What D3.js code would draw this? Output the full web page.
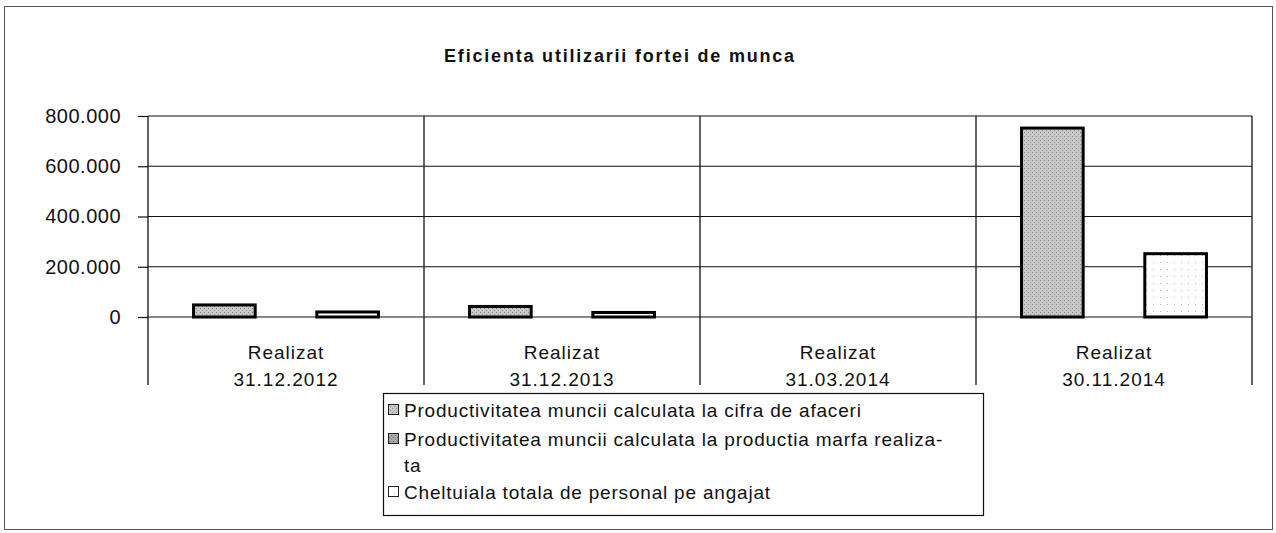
<!DOCTYPE html>
<html>
<head>
<meta charset="utf-8">
<script src="https://cdn.jsdelivr.net/npm/d3@7"></script>
<style>
  body { margin: 0; background: #fff; }
  text { font-family: "Liberation Sans", Arial, sans-serif; fill: #111; }
</style>
</head>
<body>
<div id="chart"></div>
<script>
// categories + values
const catTop = ["Realizat", "Realizat", "Realizat", "Realizat"];
const catDates = ["31.12.2012", "31.12.2013", "31.03.2014", "30.11.2014"];
const seriesNames = [
  "Productivitatea muncii calculata la cifra de afaceri",
  "Productivitatea muncii calculata la productia marfa realizata",
  "Cheltuiala totala de personal pe angajat"
];
const valCifra = [48000, 42000, 0, 752000];
const valMarfa = [0, 0, 0, 0];
const valCheltuiala = [20000, 18000, 0, 252000];
const yTicks = [0, 200000, 400000, 600000, 800000];
const chartTitle = "Eficienta utilizarii fortei de munca";

const W = 1276, H = 533;
const plot = {left: 148, right: 1252, top: 116, bottom: 317};

const svg = d3.select("#chart").append("svg")
    .attr("width", W)
    .attr("height", H);

// patterns for the bar fills
const defs = svg.append("defs");
const p1 = defs.append("pattern").attr("id", "pat0")
    .attr("width", 4).attr("height", 4).attr("patternUnits", "userSpaceOnUse");
p1.append("rect").attr("width", 4).attr("height", 4).attr("fill", "#c8c8c8");
p1.append("rect").attr("x", 0).attr("y", 0).attr("width", 1).attr("height", 1).attr("fill", "#888");
p1.append("rect").attr("x", 2).attr("y", 2).attr("width", 1).attr("height", 1).attr("fill", "#969696");

const p2 = defs.append("pattern").attr("id", "pat1")
    .attr("width", 4).attr("height", 4).attr("patternUnits", "userSpaceOnUse");
p2.append("rect").attr("width", 4).attr("height", 4).attr("fill", "#a9a9a9");
p2.append("rect").attr("x", 1).attr("y", 1).attr("width", 1).attr("height", 1).attr("fill", "#666");
p2.append("rect").attr("x", 3).attr("y", 3).attr("width", 1).attr("height", 1).attr("fill", "#777");

const p3 = defs.append("pattern").attr("id", "pat2")
    .attr("width", 7).attr("height", 7).attr("patternUnits", "userSpaceOnUse");
p3.append("rect").attr("width", 7).attr("height", 7).attr("fill", "#fff");
p3.append("rect").attr("x", 2).attr("y", 3).attr("width", 1).attr("height", 1).attr("fill", "#b5b5b5");

const fills = ["url(#pat0)", "url(#pat1)", "url(#pat2)"];

// outer frame
svg.append("rect")
    .attr("x", 4.5).attr("y", 6.5)
    .attr("width", 1268).attr("height", 523)
    .attr("fill", "none")
    .attr("stroke", "#555")
    .attr("stroke-width", 1);

svg.append("text")
    .attr("x", 620).attr("y", 62)
    .attr("text-anchor", "middle")
    .attr("font-size", 18)
    .attr("font-weight", "bold")
    .attr("letter-spacing", 1.8)
    .text(chartTitle);

const x = d3.scaleBand()
    .domain(d3.range(catDates.length))
    .range([plot.left, plot.right])
    .padding(0);

const xs = d3.scaleBand()
    .domain(d3.range(seriesNames.length))
    .range([x.bandwidth() * 0.165, x.bandwidth() * 0.835])
    .padding(0);

const y = d3.scaleLinear()
    .domain([0, 800000])
    .range([plot.bottom, plot.top]);

const ro = d3.formatLocale({decimal: ",", thousands: ".", grouping: [3], currency: ["", ""]});
const fmt = ro.format(",");

// gridlines
svg.append("g")
  .selectAll("line")
  .data(yTicks)
  .enter().append("line")
    .attr("x1", plot.left).attr("x2", plot.right)
    .attr("y1", d => y(d)).attr("y2", d => y(d))
    .attr("stroke", "#111")
    .attr("stroke-width", 1.2);

// y axis
const yAxis = svg.append("g")
    .attr("transform", "translate(" + plot.left + ",0)")
    .call(d3.axisLeft(y).tickValues(yTicks).tickFormat(fmt).tickSize(10).tickPadding(17));
yAxis.select(".domain").remove();
yAxis.selectAll(".tick line").attr("stroke", "#111").attr("stroke-width", 1.2);
yAxis.selectAll(".tick text")
    .attr("font-family", "Liberation Sans, Arial, sans-serif")
    .attr("font-size", 20)
    .attr("letter-spacing", 0.5)
    .attr("fill", "#111");

// category dividers (run down past the labels)
const edges = d3.range(catDates.length + 1).map(i => i < catDates.length ? x(i) : x(i - 1) + x.bandwidth());
svg.append("g")
  .selectAll("line")
  .data(edges)
  .enter().append("line")
    .attr("x1", d => d).attr("x2", d => d)
    .attr("y1", plot.top).attr("y2", 385)
    .attr("stroke", "#111")
    .attr("stroke-width", 1.3);

// bars
const table = catDates.map((d, i) => ({i: i, vals: [valCifra[i], valMarfa[i], valCheltuiala[i]]}));
const groups = svg.append("g")
  .selectAll("g")
  .data(table)
  .enter().append("g")
    .attr("transform", d => "translate(" + x(d.i) + ",0)");

groups.selectAll("rect")
  .data(d => d.vals.map((v, k) => ({k: k, v: v})).filter(e => e.v > 0))
  .enter().append("rect")
    .attr("x", d => xs(d.k))
    .attr("y", d => y(d.v))
    .attr("width", xs.bandwidth())
    .attr("height", d => y(0) - y(d.v))
    .attr("fill", d => fills[d.k])
    .attr("stroke", "#000")
    .attr("stroke-width", 3);

// category labels
const lab = svg.append("g")
    .attr("font-size", 19)
    .attr("letter-spacing", 1)
    .attr("text-anchor", "middle");
lab.selectAll("text.l1")
  .data(catTop)
  .enter().append("text")
    .attr("class", "l1")
    .attr("x", (d, i) => x(i) + x.bandwidth() / 2)
    .attr("y", 359)
    .text(d => d);
lab.selectAll("text.l2")
  .data(catDates)
  .enter().append("text")
    .attr("class", "l2")
    .attr("x", (d, i) => x(i) + x.bandwidth() / 2)
    .attr("y", 386)
    .text(d => d);

// legend
const legend = svg.append("g");
legend.append("rect")
    .attr("x", 383.5).attr("y", 393.5)
    .attr("width", 600).attr("height", 122)
    .attr("fill", "#fff")
    .attr("stroke", "#111")
    .attr("stroke-width", 1.2);

const legendRows = [
  {k: 0, lines: ["Productivitatea muncii calculata la cifra de afaceri"], y: 417},
  {k: 1, lines: ["Productivitatea muncii calculata la productia marfa realiza-", "ta"], y: 446},
  {k: 2, lines: ["Cheltuiala totala de personal pe angajat"], y: 499}
];

const li = legend.selectAll("g")
  .data(legendRows)
  .enter().append("g");

li.append("rect")
    .attr("x", 388.5)
    .attr("y", d => d.y - 12.5)
    .attr("width", 10).attr("height", 10)
    .attr("fill", d => fills[d.k])
    .attr("stroke", "#222")
    .attr("stroke-width", 1);

li.each(function(d) {
  d3.select(this).selectAll("text")
    .data(d.lines)
    .enter().append("text")
      .attr("x", 404)
      .attr("y", (t, j) => d.y + j * 26)
      .attr("font-size", 19)
      .attr("letter-spacing", 0.8)
      .text(t => t);
});
</script>
</body>
</html>
